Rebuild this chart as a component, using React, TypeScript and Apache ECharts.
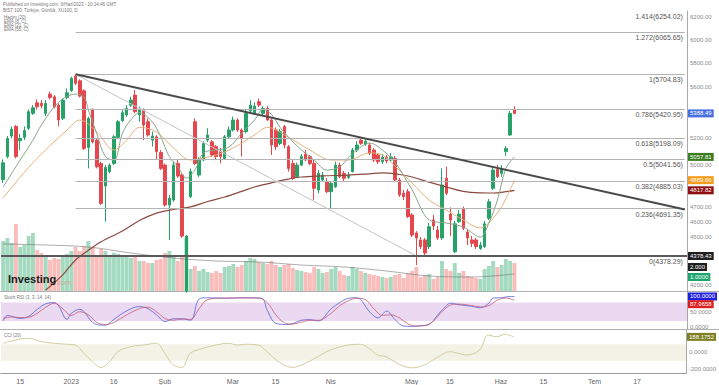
import React, { useEffect, useRef } from "react";
import * as echarts from "echarts";

const FONT = "'Liberation Sans', Arial, sans-serif";

const START_DATE = "2022-12-09";
const CATEGORY_COUNT = 161;
const HOLIDAYS = ["2023-02-09", "2023-02-10", "2023-02-13", "2023-02-14", "2023-04-21", "2023-05-01", "2023-05-19"];
const AXIS_TICK_LABELS: Record<string, string> = {
  "2022-12-15": "15", "2023-01-02": "2023", "2023-01-16": "16", "2023-02-01": "Şub",
  "2023-03-01": "Mar", "2023-03-15": "15", "2023-04-03": "Nis", "2023-05-02": "May",
  "2023-05-15": "15", "2023-06-01": "Haz", "2023-06-15": "15", "2023-07-03": "Tem", "2023-07-17": "17",
};

// [open, close, low, high]
const candles: number[][] = [
  [4893, 5015, 4870, 5040], [5060, 5196, 5047, 5214], [5214, 5266, 5196, 5287], [5287, 5060, 5047, 5298],
  [5178, 5196, 5109, 5229], [5204, 5255, 5183, 5287], [5273, 5402, 5260, 5420], [5389, 5433, 5376, 5454],
  [5472, 5441, 5420, 5500], [5468, 5449, 5428, 5494], [5389, 5468, 5368, 5494], [5542, 5515, 5500, 5561],
  [5520, 5441, 5428, 5534], [5454, 5337, 5287, 5468], [5350, 5494, 5337, 5507], [5515, 5553, 5500, 5588],
  [5569, 5671, 5561, 5684], [5690, 5630, 5616, 5704.83], [5651, 5526, 5515, 5663], [5569, 5121, 5109, 5580],
  [5128, 5350, 4974, 5363], [5415, 5170, 5158, 5428], [5183, 4986, 4974, 5196], [5010, 4727, 4716, 5023],
  [4848, 4981, 4603, 4998], [4951, 4998, 4938, 5010], [5010, 5208, 4998, 5222], [5204, 5324, 5193, 5337],
  [5332, 5394, 5322, 5415], [5376, 5428, 5363, 5454], [5454, 5494, 5441, 5520], [5534, 5402, 5389, 5575],
  [5376, 5420, 5324, 5441], [5415, 5298, 5183, 5428], [5324, 5222, 5208, 5350], [5183, 5214, 5134, 5248],
  [5208, 5097, 5035, 5222], [5090, 4974, 4962, 5109], [4998, 4716, 4705, 5010], [4716, 4762, 4482, 4785],
  [4750, 4998, 4738, 5023], [5010, 4919, 4905, 5035], [4926, 4507, 4495, 4938], [4160, 4507, 4150, 4514],
  [4773, 4951, 4764, 4974], [5324, 5010, 4998, 5350], [4926, 5035, 4912, 5057], [5035, 5158, 5028, 5175],
  [5183, 5222, 5168, 5273], [5170, 5072, 5057, 5183], [5134, 5060, 5035, 5146], [5097, 5060, 5010, 5124],
  [5047, 5208, 5035, 5222], [5208, 5260, 5198, 5287], [5260, 5337, 5248, 5363], [5337, 5260, 5245, 5350],
  [5260, 5196, 5060, 5273], [5248, 5389, 5235, 5415], [5408, 5454, 5389, 5494], [5389, 5446, 5376, 5476],
  [5481, 5454, 5438, 5507], [5389, 5428, 5376, 5446], [5428, 5337, 5330, 5446], [5337, 5146, 5072, 5350],
  [5260, 5134, 5109, 5280], [5158, 5248, 5146, 5267], [5287, 5146, 5121, 5298], [5134, 4974, 4951, 5146],
  [5010, 4903, 4891, 5035], [4914, 4998, 4905, 5016], [4998, 5060, 4991, 5079], [5079, 5035, 5028, 5109],
  [5060, 5010, 4998, 5072], [5010, 4832, 4750, 5035], [4820, 4938, 4797, 4962], [4891, 4926, 4877, 4948],
  [4879, 4808, 4799, 4905], [4808, 4867, 4694, 4884], [4843, 4998, 4834, 5023], [4998, 4914, 4905, 5016],
  [4938, 4903, 4884, 4955], [4910, 4926, 4898, 4948], [4951, 5109, 4945, 5124], [5109, 5146, 5094, 5175],
  [5183, 5158, 5146, 5200], [5153, 5175, 5139, 5193], [5146, 5084, 5072, 5161], [5109, 5035, 5020, 5124],
  [5072, 5023, 5005, 5087], [5023, 5057, 5005, 5079], [5057, 5028, 5010, 5072], [5035, 5057, 5020, 5087],
  [5047, 4891, 4877, 5065], [4891, 4785, 4771, 4905], [4797, 4773, 4750, 4820], [4808, 4637, 4627, 4827],
  [4648, 4514, 4501, 4661], [4528, 4495, 4321, 4540], [4482, 4439, 4423, 4501], [4482, 4397, 4378.29, 4495],
  [4439, 4569, 4423, 4594], [4614, 4574, 4547, 4648], [4547, 4495, 4482, 4574], [4495, 4855, 4482, 4974],
  [4903, 4797, 4785, 4986], [4654, 4614, 4507, 4699], [4405, 4588, 4397, 4607], [4603, 4654, 4594, 4682],
  [4690, 4559, 4547, 4705], [4534, 4495, 4449, 4553], [4482, 4460, 4436, 4508], [4482, 4439, 4423, 4495],
  [4427, 4449, 4417, 4469], [4439, 4588, 4430, 4607], [4625, 4738, 4614, 4757], [4832, 4962, 4820, 4986],
  [4967, 4914, 4905, 4998], [4938, 4974, 4914, 4998], [5097, 5121, 5065, 5139], [5222, 5389, 5214, 5408],
  [5420, 5388.49, 5382, 5446],
];

const volumes: number[] = [
  50, 53, 48, 67, 44, 46, 55, 58, 41, 38, 36, 31, 33, 32, 34, 37, 40, 44, 40, 45,
  50, 44, 36, 42, 40, 34, 38, 37, 36, 35, 33, 34, 30, 30, 28, 28, 31, 32, 38, 40,
  36, 30, 35, 53, 22, 25, 20, 22, 19, 18, 20, 18, 24, 25, 27, 24, 26, 30, 33, 32,
  29, 28, 27, 30, 26, 24, 26, 27, 23, 21, 20, 19, 18, 24, 22, 18, 19, 22, 24, 20,
  16, 15, 24, 22, 20, 18, 17, 16, 15, 14, 13, 14, 16, 17, 13, 18, 20, 24, 14, 16,
  17, 12, 14, 30, 22, 20, 28, 18, 20, 15, 14, 13, 12, 22, 25, 30, 24, 26, 32, 30, 28,
];
const volumeAvg: number[][] = [[0, 47], [10, 46], [20, 44], [30, 38], [40, 33], [50, 30], [60, 29], [70, 26], [80, 24], [90, 20], [100, 15], [110, 14], [120, 17]];

const emaFast: number[][] = [
  [0, 4841], [4, 5035], [7, 5183], [9, 5300], [13, 5476], [17, 5542], [19, 5520], [20, 5415], [22, 5230], [24, 5060],
  [26, 5035], [28, 5235], [30, 5340], [32, 5394], [35, 5322], [37, 5208], [39, 5060], [41, 4986], [43, 4905], [45, 4962],
  [47, 5087], [50, 5109], [53, 5131], [56, 5235], [59, 5337], [61, 5420], [63, 5380], [65, 5280], [67, 5204], [70, 5109],
  [73, 5035], [76, 4962], [79, 4986], [81, 5050], [83, 5109], [86, 5161], [89, 5109], [92, 5016], [96, 4820], [100, 4614],
  [104, 4594], [108, 4567], [112, 4501], [114, 4594], [116, 4750], [118, 4974], [120, 5057.81],
];
const emaMid: number[][] = [
  [0, 4764], [7, 5016], [15, 5260], [18, 5337], [22, 5245], [26, 5109], [29, 5183], [32, 5280], [36, 5245], [40, 5124],
  [44, 5035], [48, 5057], [52, 5094], [56, 5161], [59, 5222], [62, 5280], [67, 5204], [72, 5109], [77, 5035], [81, 5035],
  [86, 5087], [89, 5072], [92, 4990], [96, 4869], [100, 4750], [104, 4682], [108, 4614], [112, 4561], [114, 4594],
  [117, 4705], [120, 4889.66],
];
const emaSlow: number[][] = [
  [10, 4167], [14, 4260], [17, 4353], [20, 4415], [23, 4470], [28, 4540], [32, 4610], [36, 4660], [40, 4685], [44, 4703],
  [48, 4740], [52, 4771], [56, 4810], [59, 4841], [63, 4870], [66, 4891], [70, 4912], [75, 4920], [81, 4926], [86, 4935],
  [89, 4941], [93, 4930], [96, 4912], [100, 4875], [104, 4841], [108, 4810], [112, 4800], [115, 4799], [118, 4808], [120, 4817.82],
];

const stochK: number[][] = [
  [0, 20], [1, 38], [2, 35], [4, 28], [6, 35], [8, 58], [10, 76], [12, 80], [13, 70], [15, 25], [16, 45], [18, 58], [19, 50],
  [21, 15], [23, 6], [24, 6], [26, 25], [29, 53], [32, 67], [34, 60], [36, 40], [38, 18], [40, 27], [42, 27], [44, 22],
  [46, 92], [48, 96], [52, 94], [56, 96], [60, 95], [61, 92], [62, 55], [64, 12], [67, 8], [70, 22], [72, 24], [74, 20],
  [77, 60], [79, 80], [81, 94], [83, 96], [84, 88], [86, 50], [88, 30], [90, 52], [92, 24], [94, 3], [96, 2], [98, 4],
  [100, 8], [102, 40], [104, 70], [105, 78], [107, 73], [110, 68], [112, 63], [114, 78], [115, 95], [117, 96], [119, 100], [120, 100],
];
const stochD: number[][] = [
  [0, 28], [2, 33], [4, 31], [6, 32], [8, 45], [10, 65], [12, 78], [14, 60], [16, 38], [18, 50], [20, 40], [22, 15], [24, 8],
  [26, 15], [29, 40], [32, 60], [34, 65], [36, 50], [38, 28], [40, 22], [42, 26], [44, 25], [46, 60], [48, 90], [52, 95],
  [56, 95], [60, 95], [62, 80], [64, 40], [66, 14], [68, 10], [70, 16], [72, 22], [74, 22], [77, 45], [79, 70], [81, 86],
  [83, 94], [85, 90], [87, 60], [89, 38], [91, 40], [93, 30], [95, 10], [97, 3], [99, 5], [101, 20], [103, 50], [105, 72],
  [107, 75], [110, 70], [112, 66], [114, 70], [116, 88], [118, 95], [120, 87.9658],
];
const cciValues: number[][] = [
  [0, 110], [3, 151], [6, 171], [9, 130], [12, 111], [15, 99], [17, 90], [19, -10], [21, -111], [23, -180], [25, -111],
  [27, 10], [30, 70], [33, 90], [36, 111], [38, -10], [40, -150], [42, -180], [44, -10], [47, 50], [50, 90], [53, 111],
  [55, 90], [57, 99], [60, 90], [62, 10], [65, -120], [68, -180], [71, -130], [74, -50], [76, 10], [78, 50], [81, 90],
  [84, 99], [86, 50], [88, -30], [90, -50], [93, -140], [96, -185], [99, -150], [102, -60], [105, 10], [107, -10],
  [109, -30], [112, 30], [114, 210], [116, 190], [118, 219], [120, 188.1752],
];

const fibRatios = ["1.414", "1.272", "1", "0.786", "0.618", "0.5", "0.382", "0.236", "0"];
const fibValues = [6254.02, 6065.65, 5704.83, 5420.95, 5198.09, 5041.56, 4885.03, 4691.35, 4378.29];
const fibHighIndex = 17;
const fibLowIndex = 97;
const fibEndIndex = 160;
const trendStart = [17, 5704.83];
const trendEnd = [160, 4685];
const supportLevel = 4378.43;

// tick labels that are visible on the reference price scale (others sit under value tags)
const priceTicks = [4200, 4500, 4600, 4700, 5000, 5200, 5600, 5800, 6000, 6200];
const stochTicks = [0, 50, 100];
const cciTicks = [-200, 0, 200];

const lastClose = 5388.49;
const lastFast = 5057.81;
const lastMid = 4889.66;
const lastSlow = 4817.82;
const lastVolume = 24;
const lastVolumeAvg = 14;
const lastStochK = 100;
const lastStochD = 87.9658;
const lastCci = 188.1752;

function buildDates(): string[] {
  const out: string[] = [];
  const d = new Date(START_DATE + "T00:00:00Z");
  while (out.length < CATEGORY_COUNT) {
    const day = d.getUTCDay();
    const s = d.toISOString().slice(0, 10);
    if (day !== 0 && day !== 6 && HOLIDAYS.indexOf(s) < 0) out.push(s);
    d.setUTCDate(d.getUTCDate() + 1);
  }
  return out;
}

function tag(value: number, text: string, bg: string, offsetY = 0) {
  return {
    yAxis: value,
    lineStyle: { color: "rgba(0,0,0,0)", width: 0 },
    label: {
      show: true, position: "end", distance: 1, formatter: text, color: "#fff", backgroundColor: bg,
      fontSize: 6, fontFamily: FONT, padding: [1, 2, 1, 2], offset: [0, offsetY],
    },
  };
}

function buildOption(): any {
  const dates = buildDates();
  const up = "#26a269";
  const down = "#e4474e";
  const grids = [
    { left: 1, right: 32, top: 11, height: 280 },
    { left: 1, right: 32, top: 191, height: 100 },
    { left: 1, right: 32, top: 292, height: 37.5 },
    { left: 1, right: 32, top: 330, height: 43 },
  ];
  const xAxis = grids.map((_, gi) => ({
    type: "category", gridIndex: gi, data: dates, boundaryGap: true,
    axisLine: { show: gi === 3, onZero: false, lineStyle: { color: "#9a9a9a" } },
    axisTick: { show: false },
    splitLine: { show: false },
    axisLabel: gi === 3
      ? { show: true, interval: 0, formatter: (v: string) => AXIS_TICK_LABELS[v] || "", fontSize: 7, color: "#666", margin: 5, fontFamily: FONT }
      : { show: false },
  }));
  const axisLabelBase = { fontSize: 6, color: "#8a8a8a", margin: 3, fontFamily: FONT };
  const yAxis = [
    {
      type: "log", logBase: 10, gridIndex: 0, position: "right", min: 4160.82, max: 6255,
      axisLine: { show: true, lineStyle: { color: "#a8a8a8" } }, axisTick: { show: false }, splitLine: { show: false },
      axisLabel: { ...axisLabelBase, customValues: priceTicks, formatter: (v: number) => v.toFixed(2) },
    },
    { type: "value", gridIndex: 1, min: 0, max: 100, show: false },
    {
      type: "value", gridIndex: 2, position: "right", min: -8.2, max: 114.75,
      axisLine: { show: true, lineStyle: { color: "#a8a8a8" } }, axisTick: { show: false }, splitLine: { show: false },
      axisLabel: { ...axisLabelBase, customValues: stochTicks, formatter: (v: number) => v.toFixed(4) },
    },
    {
      type: "value", gridIndex: 3, position: "right", min: -247, max: 271,
      axisLine: { show: true, lineStyle: { color: "#a8a8a8" } }, axisTick: { show: false }, splitLine: { show: false },
      axisLabel: { ...axisLabelBase, customValues: cciTicks, formatter: (v: number) => v.toFixed(4) },
    },
  ];

  const fibLines = fibValues.map((v, k) => [
    {
      coord: [fibHighIndex, v],
      lineStyle: { color: k === 0 ? "rgba(0,0,0,0)" : "#b4b4b4", width: 1, type: "solid" },
      label: {
        show: true, position: "insideEndBottom", distance: 2, formatter: `${fibRatios[k]}(${v.toFixed(2)})`,
        color: "#555", fontSize: 7, fontFamily: FONT,
      },
    },
    { coord: [fibEndIndex, v] },
  ]);

  const lineBase = { type: "line", showSymbol: false, smooth: 0.35, silent: true };

  const series: any[] = [
    {
      type: "bar", name: "Volume", xAxisIndex: 1, yAxisIndex: 1, barCategoryGap: "8%", silent: true,
      data: volumes.map((v, i) => ({
        value: v,
        itemStyle: { color: candles[i][1] >= candles[i][0] ? "rgba(38,166,105,0.42)" : "rgba(239,83,80,0.38)" },
      })),
      markLine: {
        symbol: ["none", "none"], silent: true,
        data: [tag(lastVolume, "2.000", "#1e1e1e"), tag(lastVolumeAvg, "1.0000", "#20a56e")],
      },
    },
    { ...lineBase, name: "Vol MA", xAxisIndex: 1, yAxisIndex: 1, data: volumeAvg, lineStyle: { color: "#6d6d6d", width: 0.8, opacity: 0.7 } },
    {
      type: "candlestick", name: "XU100", xAxisIndex: 0, yAxisIndex: 0, data: candles, barWidth: 3, silent: true,
      itemStyle: { color: up, color0: down, borderColor: up, borderColor0: down, borderWidth: 1 },
      markLine: {
        symbol: ["none", "none"], silent: true,
        data: [
          ...fibLines,
          [
            { coord: [fibHighIndex, fibValues[2]], lineStyle: { color: "#c4c4c4", width: 1, type: "solid" }, label: { show: false } },
            { coord: [fibLowIndex, fibValues[8]] },
          ],
          [
            { coord: trendStart, lineStyle: { color: "#4a4a4a", width: 2, type: "solid" }, label: { show: false } },
            { coord: trendEnd },
          ],
          {
            yAxis: supportLevel, lineStyle: { color: "#5a5a5a", width: 2, type: "solid" },
            label: { show: true, position: "end", distance: 1, formatter: supportLevel.toFixed(2), color: "#fff", backgroundColor: "#1e1e1e", fontSize: 6, fontFamily: FONT, padding: [1, 2, 1, 2] },
          },
          tag(lastClose, lastClose.toFixed(2), "#4a6fe0"),
          tag(lastFast, lastFast.toFixed(2), "#3c7d22"),
          tag(lastMid, lastMid.toFixed(2), "#f39c1e"),
          tag(lastSlow, lastSlow.toFixed(2), "#8e1010"),
        ],
      },
    },
    { ...lineBase, name: "EMA 55", xAxisIndex: 0, yAxisIndex: 0, data: emaSlow, lineStyle: { color: "#8a4b40", width: 1.2 } },
    { ...lineBase, name: "EMA 21", xAxisIndex: 0, yAxisIndex: 0, data: emaMid, lineStyle: { color: "#e2b27a", width: 1 } },
    { ...lineBase, name: "EMA 8", xAxisIndex: 0, yAxisIndex: 0, data: emaFast, lineStyle: { color: "#8aa58a", width: 1 } },
    {
      ...lineBase, name: "%K", xAxisIndex: 2, yAxisIndex: 2, data: stochK, lineStyle: { color: "#5460d8", width: 0.8 },
      markArea: { silent: true, itemStyle: { color: "#ead9f0" }, data: [[{ yAxis: 20 }, { yAxis: 80 }]] },
      markLine: { symbol: ["none", "none"], silent: true, data: [tag(lastStochK, lastStochK.toFixed(4), "#1f1fe0")] },
    },
    {
      ...lineBase, name: "%D", xAxisIndex: 2, yAxisIndex: 2, data: stochD, lineStyle: { color: "#c85a78", width: 0.8 },
      markLine: { symbol: ["none", "none"], silent: true, data: [tag(lastStochD, lastStochD.toFixed(4), "#e01f1f", 4)] },
    },
    {
      ...lineBase, name: "CCI", xAxisIndex: 3, yAxisIndex: 3, data: cciValues, lineStyle: { color: "#d2cd9e", width: 1 },
      markArea: { silent: true, itemStyle: { color: "#f2f2e6" }, data: [[{ yAxis: -100 }, { yAxis: 100 }]] },
      markLine: { symbol: ["none", "none"], silent: true, data: [tag(lastCci, lastCci.toFixed(4), "#7e7e22")] },
    },
  ];

  const small = { fontSize: 4.5, fill: "#777", fontFamily: FONT };
  const graphic = [
    { type: "line", shape: { x1: 0, y1: 291.5, x2: 719, y2: 291.5 }, style: { stroke: "#b0b0b0", lineWidth: 1 }, silent: true },
    { type: "line", shape: { x1: 0, y1: 329.5, x2: 719, y2: 329.5 }, style: { stroke: "#b0b0b0", lineWidth: 1 }, silent: true },
    { type: "text", left: 3, top: 2, style: { ...small, text: "Published on Investing.com, 6/Haz/2023 - 10:14:46 GMT" } },
    { type: "text", left: 3, top: 8, style: { ...small, text: "BIST 100, Türkiye, Günlük, XU100, D" } },
    { type: "text", left: 4, top: 15, style: { ...small, text: "Hacim (20)" } },
    { type: "text", left: 4, top: 19, style: { ...small, text: "EMA (8, C)" } },
    { type: "text", left: 4, top: 23, style: { ...small, text: "EMA (21, C)" } },
    { type: "text", left: 4, top: 27, style: { ...small, text: "EMA (55, C)" } },
    { type: "text", left: 4, top: 295, style: { ...small, text: "Stoch RSI (3, 3, 14, 14)" } },
    { type: "text", left: 4, top: 333, style: { ...small, text: "CCI (20)" } },
    { type: "text", left: 8, top: 273, z: 100, style: { text: "Investing", fontSize: 11, fontWeight: "bold", fill: "#1c1c1c", fontFamily: FONT } },
    { type: "text", left: 55, top: 278, z: 100, style: { text: ".com", fontSize: 7.5, fill: "#c9ad94", fontFamily: FONT } },
  ];

  return {
    animation: false,
    backgroundColor: "#ffffff",
    grid: grids,
    xAxis,
    yAxis,
    series,
    graphic,
  };
}

export default function App() {
  const ref = useRef<HTMLDivElement>(null);
  useEffect(() => {
    if (!ref.current) return;
    const chart = echarts.init(ref.current, null, { renderer: "svg" });
    chart.setOption(buildOption());
    return () => chart.dispose();
  }, []);
  return <div ref={ref} style={{ position: "absolute", left: 0, top: 0, width: 719, height: 385, background: "#fff" }} />;
}
